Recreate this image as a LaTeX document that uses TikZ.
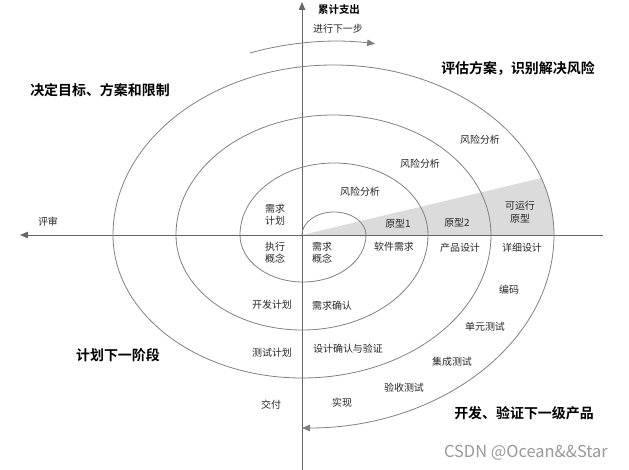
\documentclass[tikz,border=0pt]{standalone}
\usepackage{fontspec}
\setmainfont{Noto Sans CJK SC}[BoldFont={Noto Sans CJK SC Bold}]
\usetikzlibrary{arrows.meta}

\begin{document}
\begin{tikzpicture}[
        x=1bp, y=1bp,
        lbl/.style={
            font=\fontsize{10}{12.5}\selectfont,
            text=black!85,
            inner sep=0pt,
            align=center
        },
        phase/.style={
            font=\fontsize{14}{16}\selectfont\bfseries,
            inner sep=0pt
        },
        axis/.style={
            -{Triangle[length=8bp, width=6.5bp]},
            draw=black!60,
            line width=0.8pt
        },
        turn/.style={
            draw=black!50,
            line width=0.8pt
        },
        wedge/.style={fill=black!14}
    ]
        \useasboundingbox (-302,-235) rectangle (327,235);

        % shaded prototype wedge
        \begin{scope}
            \clip (-189,0) arc[start angle=180, end angle=0, x radius=220.5, y radius=170] -- cycle;
            \fill[wedge] (0,0) -- (330,78.5) -- (330,0) -- cycle;
        \end{scope}

        \coordinate (origin) at (0,0);
        \coordinate (west) at (-282,0);
        \coordinate (east) at (301,0);
        \coordinate (north) at (0,233);
        \coordinate (south) at (0,-235);
        \coordinate (stepfrom) at (-52,182);

        \draw[axis] (east) -- (west);
        \draw[axis] (south) -- (north);

        % the spiral
        \draw[turn, -{Triangle[length=8bp, width=6.5bp]}] (origin)
            arc[start angle=180, end angle=0, x radius=32, y radius=23]
            arc[start angle=0, end angle=-180, x radius=63, y radius=47]
            arc[start angle=180, end angle=0, x radius=94, y radius=72]
            arc[start angle=0, end angle=-180, x radius=126, y radius=95]
            arc[start angle=180, end angle=0, x radius=157.5, y radius=120]
            arc[start angle=0, end angle=-180, x radius=189, y radius=143]
            arc[start angle=180, end angle=0, x radius=220.5, y radius=170]
            arc[start angle=0, end angle=-90, x radius=252, y radius=193];

        \draw[turn, -{Triangle[length=8bp, width=6.5bp]}] (stepfrom)
            arc[start angle=110, end angle=81, x radius=251, y radius=193];

        % quadrant titles
        \node (total) [phase, font=\fontsize{10.5}{12}\selectfont\bfseries] at (37,225) {累计支出};
        \node (next) [lbl] at (36,206) {进行下一步};
        \node (evaluate) [phase] at (216,167) {评估方案，识别解决风险};
        \node (decide) [phase] at (-202,145) {决定目标、方案和限制};
        \node (plannext) [phase] at (-184,-120) {计划下一阶段};
        \node (develop) [phase] at (222,-178) {开发、验证下一级产品};
        \node (review) [lbl] at (-254,13) {评审};

        % risk analysis and prototypes
        \node (risk1) [lbl] at (58,43) {风险分析};
        \node (risk2) [lbl] at (118,71) {风险分析};
        \node (risk3) [lbl] at (178,95) {风险分析};
        \node (proto1) [lbl] at (96,11) {原型1};
        \node (proto2) [lbl] at (155,12) {原型2};
        \node (runproto) [lbl] at (218,23) {可运行\\原型};

        % planning side
        \node (reqplan) [lbl] at (-27,20) {需求\\计划};
        \node (concept) [lbl] at (-27,-18) {执行\\概念};
        \node (devplan) [lbl] at (-30,-70) {开发计划};
        \node (testplan) [lbl] at (-30,-118) {测试计划};
        \node (deliver) [lbl] at (-31,-170) {交付};

        % development side
        \node (reqconcept) [lbl] at (20,-18) {需求\\概念};
        \node (swreq) [lbl] at (92,-12) {软件需求};
        \node (proddesign) [lbl] at (158,-13) {产品设计};
        \node (detail) [lbl] at (220,-13) {详细设计};
        \node (coding) [lbl] at (207,-55) {编码};
        \node (unittest) [lbl] at (183,-92) {单元测试};
        \node (integtest) [lbl] at (150,-127) {集成测试};
        \node (accepttest) [lbl] at (102,-153) {验收测试};
        \node (implement) [lbl] at (40,-168) {实现};
        \node (reqcheck) [lbl] at (30,-71) {需求确认};
        \node (designcheck) [lbl] at (46,-114) {设计确认与验证};

        \node (mark) [font=\fontsize{16.5}{18}\selectfont, text=black!40, inner sep=0pt] at (224,-218) {CSDN @Ocean\&\&Star};
    \end{tikzpicture}
\end{document}
